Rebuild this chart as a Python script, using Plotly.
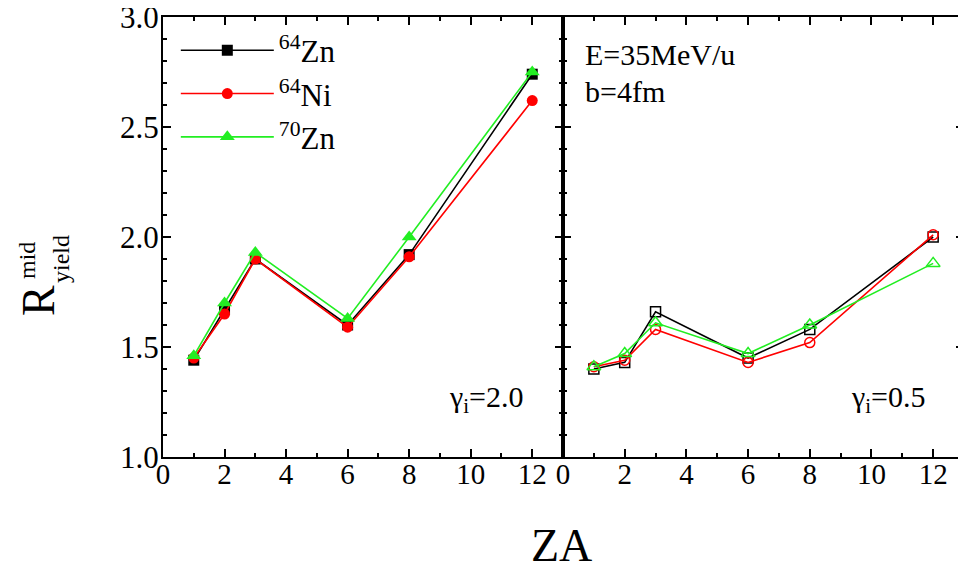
import plotly.graph_objects as go

za = [1, 2, 3, 6, 8, 12]

# gamma_i = 2.0 (left panel)
left_zn64 = [1.44, 1.67, 1.90, 1.60, 1.92, 2.74]
left_ni64 = [1.45, 1.65, 1.90, 1.59, 1.91, 2.62]
left_zn70 = [1.46, 1.70, 1.93, 1.63, 2.00, 2.75]

# gamma_i = 0.5 (right panel)
right_zn64 = [1.40, 1.43, 1.66, 1.45, 1.58, 2.00]
right_ni64 = [1.41, 1.44, 1.58, 1.43, 1.52, 2.01]
right_zn70 = [1.41, 1.47, 1.61, 1.47, 1.60, 1.88]

names = ["<sup>64</sup>Zn", "<sup>64</sup>Ni", "<sup>70</sup>Zn"]
colors = ["#000000", "#ff0000", "#22ee22"]
symbols = ["square", "circle", "triangle-up"]
sizes = [11, 11, 13]

FONT = "Liberation Serif, Times New Roman, serif"

fig = go.Figure()

for i, ys in enumerate([left_zn64, left_ni64, left_zn70]):
    fig.add_trace(go.Scatter(
        x=za, y=ys, mode="lines+markers", name=names[i],
        legendgroup=f"g{i}",
        line=dict(color=colors[i], width=1.6),
        marker=dict(symbol=symbols[i], size=sizes[i], color=colors[i]),
        xaxis="x", yaxis="y"))

for i, ys in enumerate([right_zn64, right_ni64, right_zn70]):
    fig.add_trace(go.Scatter(
        x=za, y=ys, mode="lines+markers", name=names[i], showlegend=False,
        line=dict(color=colors[i], width=1.6),
        marker=dict(symbol=symbols[i] + "-open", size=sizes[i] - 1, color=colors[i],
                    line=dict(width=1.5)),
        xaxis="x2", yaxis="y2"))

axis_common = dict(
    showgrid=False, zeroline=False, showline=True, linecolor="black", linewidth=2,
    mirror="ticks", ticks="inside", ticklen=8, tickwidth=2, tickcolor="black",
    ticklabeloverflow="allow", automargin=False,
)

minor_x = dict(ticks="inside", dtick=1, tick0=0, ticklen=4, tickwidth=2, tickcolor="black")
minor_y = dict(ticks="inside", dtick=0.1, tick0=1, ticklen=4, tickwidth=2, tickcolor="black")

xfont = dict(family=FONT, size=29, color="black")
yfont = dict(family=FONT, size=31, color="black")

fig.update_layout(
    width=966, height=570,
    margin=dict(l=155, r=10, t=9, b=121, autoexpand=False),
    paper_bgcolor="white", plot_bgcolor="white",
    font=dict(family=FONT, color="black"),
    xaxis=dict(domain=[0, 0.4994], range=[0, 13], dtick=2, tick0=0, minor=minor_x,
               anchor="y", ticklabelstandoff=-10, tickfont=xfont, **axis_common),
    xaxis2=dict(domain=[0.4994, 1], range=[0, 13], dtick=2, tick0=0, minor=minor_x,
                anchor="y2", ticklabelstandoff=-10, tickfont=xfont, **axis_common),
    yaxis=dict(domain=[0, 1], range=[1, 3], dtick=0.5, tick0=1, tickformat=".1f",
               minor=minor_y, anchor="x", ticklabelstandoff=-4, tickfont=yfont, **axis_common),
    yaxis2=dict(domain=[0, 1], range=[1, 3], dtick=0.5, tick0=1, showticklabels=False,
                minor=minor_y, anchor="x2", tickfont=yfont, **axis_common),
    legend=dict(x=0.016, y=0.985, xanchor="left", yanchor="top",
                bgcolor="rgba(0,0,0,0)", itemwidth=93, tracegroupgap=0,
                font=dict(family=FONT, size=31, color="black")),
)

ann = []
def add_text(text, x, y, size, angle=0, xanchor="center"):
    ann.append(dict(text=text, x=(x - 163) / 801, y=(457 - y) / 440,
                    xref="paper", yref="paper", showarrow=False,
                    xanchor=xanchor, yanchor="middle", textangle=angle,
                    font=dict(family=FONT, size=size, color="black")))

add_text("γ<sub>i</sub>=2.0", 486, 399, 30)
add_text("γ<sub>i</sub>=0.5", 888, 399, 30)
add_text("E=35MeV/u", 583, 55, 30, xanchor="left")
add_text("b=4fm", 583, 92, 30, xanchor="left")
add_text("ZA", 561, 545, 46)
add_text("R", 38, 301, 46, angle=-90)
add_text("mid", 27, 261, 24, angle=-90)
add_text("yield", 61, 259, 24, angle=-90)

fig.update_layout(annotations=ann)

fig.write_html("out.html")
